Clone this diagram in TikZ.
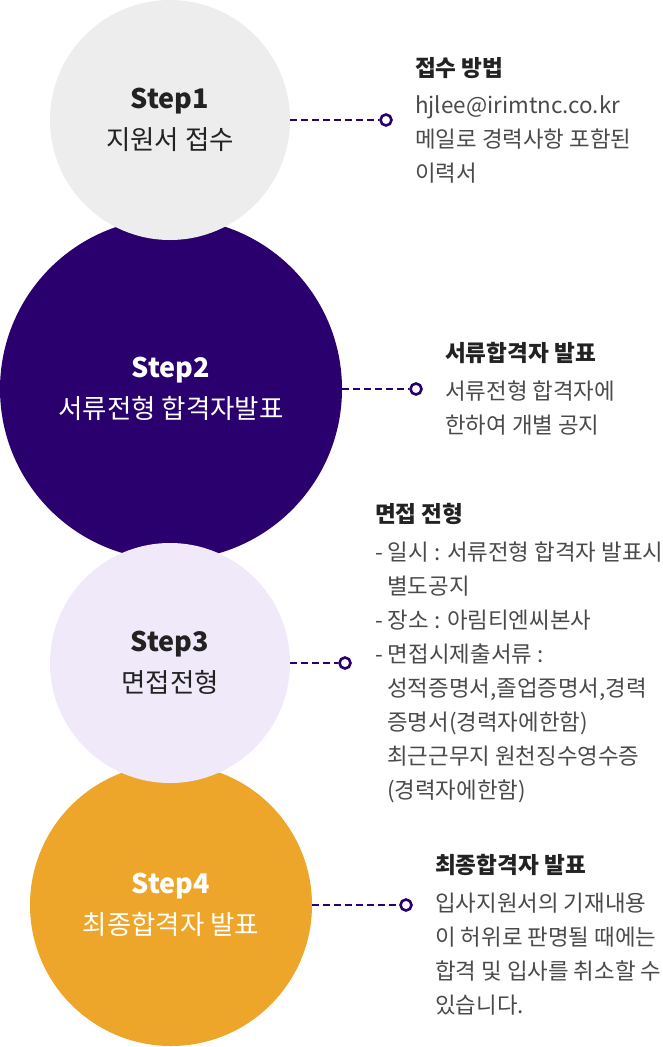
\documentclass[tikz,border=0pt]{standalone}
\usepackage{fontspec}
\setmainfont{Noto Sans CJK KR}
\usetikzlibrary{positioning}
\definecolor{stepgray}{HTML}{EDEDED}
\definecolor{stepnavy}{HTML}{2A006E}
\definecolor{steplilac}{HTML}{F0E9F9}
\definecolor{steporange}{HTML}{EEA62A}
\definecolor{titletext}{HTML}{222222}
\definecolor{bodytext}{HTML}{4A4A4A}
\newcommand{\stepfont}{\fontsize{27}{40}\selectfont\bfseries}

\begin{document}
\begin{tikzpicture}[
  x=1pt, y=-1pt,
  stepball/.style={circle, inner sep=0pt, align=center, font=\fontsize{26.5}{41}\selectfont},
  dotmark/.style={circle, draw=stepnavy, line width=2.6pt, fill=white, minimum size=11pt, inner sep=0pt},
  dashlink/.style={draw=stepnavy, line width=2pt, dash pattern=on 7pt off 4pt},
  infotitle/.style={anchor=west, inner sep=0pt, font=\fontsize{22.6}{34}\selectfont\bfseries, text=titletext},
  infobody/.style={inner sep=0pt, align=left, font=\fontsize{22.4}{34}\selectfont, text=bodytext}
]
\useasboundingbox (0,0) rectangle (663,1047);

% --- Circles: Step2 and Step4 below, Step1 and Step3 on top ---
\node[stepball, fill=stepnavy, minimum size=342pt, text=white] (s2) at (171,389)
  {{\stepfont Step2}\\서류전형 합격자발표};
\node[stepball, fill=steporange, minimum size=282pt, text=white] (s4) at (171,905)
  {{\stepfont Step4}\\최종합격자 발표};
\node[stepball, fill=stepgray, minimum size=240pt, text=titletext] (s1) at (170,120)
  {{\stepfont Step1}\\지원서 접수};
\node[stepball, fill=steplilac, minimum size=240pt, text=titletext] (s3) at (170,663)
  {{\stepfont Step3}\\면접전형};

% --- Markers ---
\node[dotmark] (m1) at (386,120) {};
\node[dotmark] (m2) at (416,389) {};
\node[dotmark] (m3) at (345,663) {};
\node[dotmark] (m4) at (406,905) {};

% --- Dashed links ---
\draw[dashlink] (s1.east) -- (m1.west);
\draw[dashlink] (s2.east) -- (m2.west);
\draw[dashlink] (s3.east) -- (m3.west);
\draw[dashlink] (s4.east) -- (m4.west);

% --- Step1 info ---
\node[infotitle] (t1) at (415,68) {접수 방법};
\node[infobody, below right=16.5pt and 0pt of t1.south west] (b1)
  {hjlee@irimtnc.co.kr\\메일로 경력사항 포함된\\이력서};

% --- Step2 info ---
\node[infotitle] (t2) at (445,353) {서류합격자 발표};
\node[infobody, below right=16.5pt and 0pt of t2.south west] (b2)
  {서류전형 합격자에\\한하여 개별 공지};

% --- Step3 info ---
\node[infotitle] (t3) at (375,514) {면접 전형};
\node[infobody, below right=16.5pt and 0pt of t3.south west] (b3)
  {- 일시 : 서류전형 합격자 발표시\\\hspace*{12pt}별도공지\\- 장소 : 아림티엔씨본사\\- 면접시제출서류 :\\
   \hspace*{12pt}성적증명서,졸업증명서,경력\\\hspace*{12pt}증명서(경력자에한함)\\
   \hspace*{12pt}최근근무지 원천징수영수증\\\hspace*{12pt}(경력자에한함)};

% --- Step4 info ---
\node[infotitle] (t4) at (435,865) {최종합격자 발표};
\node[infobody, below right=16.5pt and 0pt of t4.south west] (b4)
  {입사지원서의 기재내용\\이 허위로 판명될 때에는\\합격 및 입사를 취소할 수\\있습니다.};

\end{tikzpicture}
\end{document}
